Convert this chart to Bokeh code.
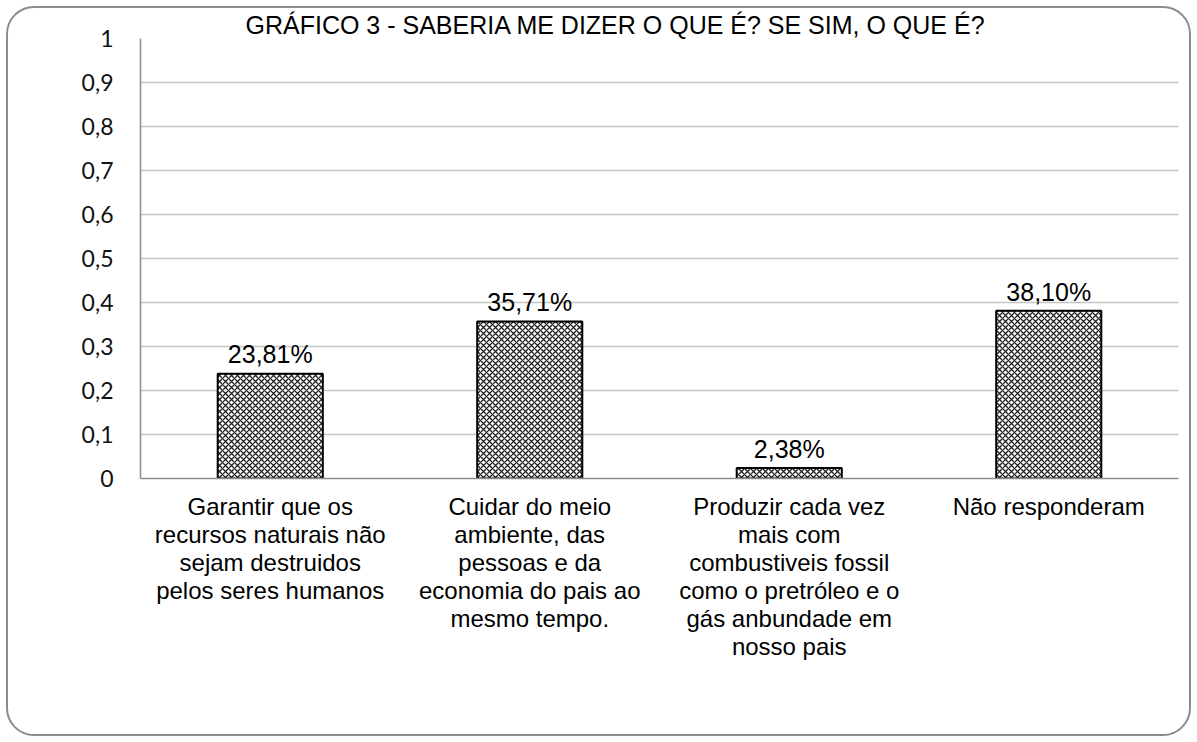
from bokeh.plotting import figure
from bokeh.models import FactorRange, Range1d, FixedTicker, ColumnDataSource
from bokeh.transform import dodge
from bokeh.core.properties import value
from bokeh.embed import file_html
from bokeh.resources import INLINE

title_text = "GRÁFICO 3 - SABERIA ME DIZER O QUE É? SE SIM, O QUE É?"
categories = [
    "Garantir que os\nrecursos naturais não\nsejam destruidos\npelos seres humanos",
    "Cuidar do meio\nambiente, das\npessoas e da\neconomia do pais ao\nmesmo tempo.",
    "Produzir cada vez\nmais com\ncombustiveis fossil\ncomo o pretróleo e o\ngás anbundade em\nnosso pais",
    "Não responderam",
]
values = [0.2381, 0.3571, 0.0238, 0.3810]
value_labels = ["23,81%", "35,71%", "2,38%", "38,10%"]
y_ticks = [0, 0.1, 0.2, 0.3, 0.4, 0.5, 0.6, 0.7, 0.8, 0.9, 1]
y_tick_labels = ["0", "0,1", "0,2", "0,3", "0,4", "0,5", "0,6", "0,7", "0,8", "0,9", "1"]

src = ColumnDataSource(dict(cat=categories, val=values, lab=value_labels))

p = figure(
    width=1197, height=742,
    x_range=FactorRange(factors=categories, range_padding=0),
    y_range=Range1d(0, 1),
    output_backend="svg", toolbar_location=None,
    min_border_left=140, min_border_right=19, min_border_top=38, min_border_bottom=264,
)
p.outline_line_color = None
p.background_fill_color = "white"
p.border_fill_color = None

# title
p.title.text = title_text
p.title.align = "left"
p.title.offset = 105
p.title.standoff = 0
p.title.text_font = "Liberation Sans"
p.title.text_font_size = "25px"
p.title.text_font_style = "normal"
p.title.text_color = "black"

# rounded chart border
p.styles = {"outline": "2px solid #8c8c8c", "outline-offset": "-8px",
            "border-radius": "34px", "background-color": "white"}

# grid
p.xgrid.grid_line_color = None
p.ygrid.grid_line_color = "#c4c4c4"
p.ygrid.grid_line_width = 1.5

# y axis
p.yaxis.ticker = FixedTicker(ticks=y_ticks)
p.yaxis.major_label_overrides = {t: l for t, l in zip(y_ticks, y_tick_labels)}
p.yaxis.major_tick_line_color = None
p.yaxis.major_tick_out = 0
p.yaxis.major_tick_in = 0
p.yaxis.minor_tick_line_color = None
p.yaxis.axis_line_color = "#8c8c8c"
p.yaxis.axis_line_width = 1.5
p.yaxis.major_label_text_font = "Lato"
p.yaxis.major_label_text_font_size = "23px"
p.yaxis.major_label_text_color = "#111111"
p.yaxis.major_label_standoff = 27

# x axis
p.xaxis.major_tick_line_color = None
p.xaxis.major_tick_out = 0
p.xaxis.major_tick_in = 0
p.xaxis.minor_tick_line_color = None
p.xaxis.axis_line_color = "#8c8c8c"
p.xaxis.axis_line_width = 1.5
p.xaxis.major_label_text_font = "Liberation Sans"
p.xaxis.major_label_text_font_size = "24px"
p.xaxis.major_label_text_color = "#000000"
p.xaxis.major_label_text_line_height = 1.04
p.xaxis.major_label_standoff = 14

# bars
p.vbar(x="cat", top="val", width=0.405, source=src,
       fill_color="white", line_color="black", line_width=2,
       hatch_pattern="diagonal_cross", hatch_color="#222222",
       hatch_scale=6, hatch_weight=1.3)

# value labels
p.text(x="cat", y=dodge("val", 0.044, range=p.y_range), text="lab", source=src,
       text_font=value("Liberation Sans"), text_font_size="25px",
       text_align="center", text_baseline="alphabetic",
       text_color="black")

open("out.html", "w").write(file_html(p, INLINE))
